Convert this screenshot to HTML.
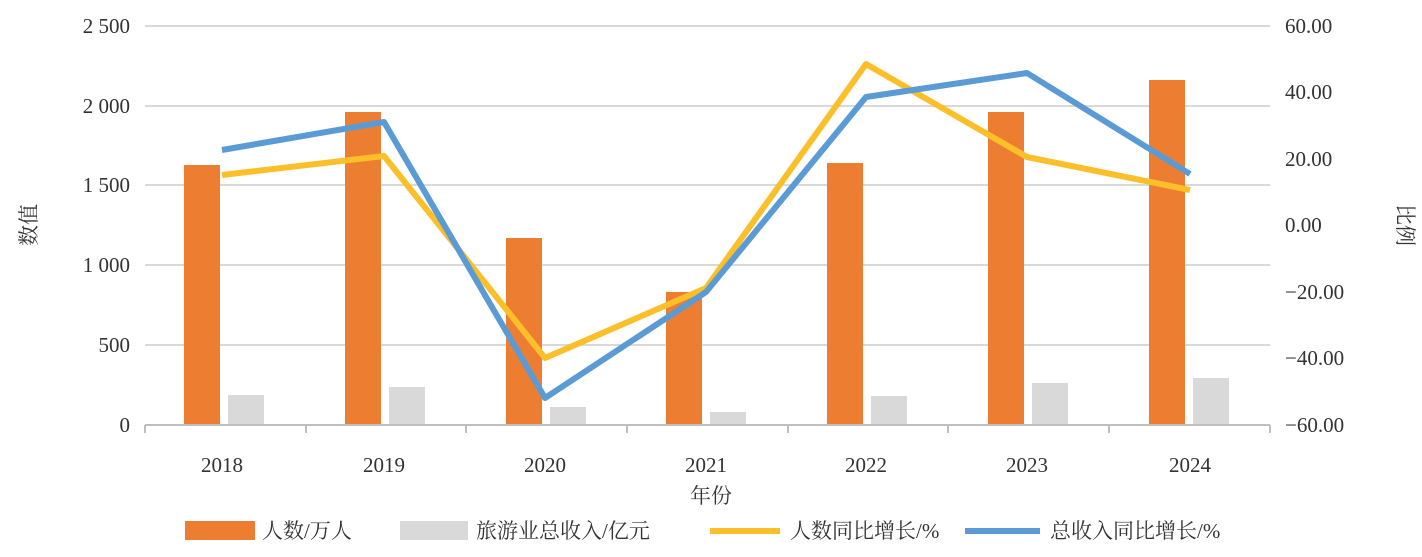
<!DOCTYPE html>
<html><head><meta charset="utf-8"><style>
body{margin:0;background:#fff}
svg text{font-family:"Liberation Serif","Noto Serif CJK SC",serif;fill:#333;font-size:21px}
</style></head><body>
<svg width="1422" height="552" xmlns="http://www.w3.org/2000/svg">
<g stroke="#d9d9d9" stroke-width="2">
<line x1="145" x2="1270" y1="26" y2="26"/><line x1="145" x2="1270" y1="106" y2="106"/>
<line x1="145" x2="1270" y1="185" y2="185"/><line x1="145" x2="1270" y1="265" y2="265"/>
<line x1="145" x2="1270" y1="345" y2="345"/>
</g>
<g text-anchor="end">
<text x="130" y="33">2 500</text><text x="130" y="113">2 000</text><text x="130" y="192">1 500</text>
<text x="130" y="272">1 000</text><text x="130" y="352">500</text><text x="130" y="432">0</text>
</g>
<g text-anchor="start">
<text x="1285" y="33">60.00</text><text x="1285" y="99">40.00</text><text x="1285" y="166">20.00</text>
<text x="1285" y="232">0.00</text><text x="1285" y="299">−20.00</text><text x="1285" y="365">−40.00</text><text x="1285" y="432">−60.00</text>
</g>
<g fill="#ed7d31">
<rect x="184" y="165" width="36" height="260"/><rect x="345" y="112" width="36" height="313"/>
<rect x="506" y="238" width="36" height="187"/><rect x="666" y="292" width="36" height="133"/>
<rect x="827" y="163" width="36" height="262"/><rect x="988" y="112" width="36" height="313"/>
<rect x="1149" y="80" width="36" height="345"/>
</g>
<g fill="#d9d9d9">
<rect x="228" y="395" width="36" height="30"/><rect x="389" y="387" width="36" height="38"/>
<rect x="550" y="407" width="36" height="18"/><rect x="710" y="412" width="36" height="13"/>
<rect x="871" y="396" width="36" height="29"/><rect x="1032" y="383" width="36" height="42"/>
<rect x="1193" y="378" width="36" height="47"/>
</g>
<line x1="145" x2="1270" y1="425" y2="425" stroke="#bfbfbf" stroke-width="2"/>
<g stroke="#bfbfbf" stroke-width="2">
<line x1="145" x2="145" y1="425" y2="433"/><line x1="306" x2="306" y1="425" y2="433"/>
<line x1="466" x2="466" y1="425" y2="433"/><line x1="627" x2="627" y1="425" y2="433"/>
<line x1="788" x2="788" y1="425" y2="433"/><line x1="948" x2="948" y1="425" y2="433"/>
<line x1="1109" x2="1109" y1="425" y2="433"/><line x1="1270" x2="1270" y1="425" y2="433"/>
</g>
<polyline fill="none" stroke="#fbbf2a" stroke-width="6" stroke-linejoin="round" points="222,175 384,156 545,358 706,288 866,64 1027,157 1190,190"/>
<polyline fill="none" stroke="#5b9bd5" stroke-width="6" stroke-linejoin="round" points="222,150 384,122 545,398 706,292 866,97 1027,73 1190,174"/>
<g text-anchor="middle">
<text x="222" y="472">2018</text><text x="384" y="472">2019</text><text x="545" y="472">2020</text>
<text x="706" y="472">2021</text><text x="866" y="472">2022</text><text x="1027" y="472">2023</text><text x="1190" y="472">2024</text>
<text x="711" y="503">年份</text>
</g>
<text transform="translate(36,225) rotate(-90)" text-anchor="middle">数值</text>
<text transform="translate(1398,225) rotate(90)" text-anchor="middle">比例</text>
<rect x="185" y="521" width="70" height="19" fill="#ed7d31"/><text x="262" y="538">人数/万人</text>
<rect x="400" y="521" width="68" height="19" fill="#d9d9d9"/><text x="476" y="538">旅游业总收入/亿元</text>
<line x1="710" x2="780" y1="531" y2="531" stroke="#fbbf2a" stroke-width="6"/><text x="790" y="538">人数同比增长/%</text>
<line x1="965" x2="1040" y1="531" y2="531" stroke="#5b9bd5" stroke-width="6"/><text x="1050" y="538">总收入同比增长/%</text>
</svg>
</body></html>
